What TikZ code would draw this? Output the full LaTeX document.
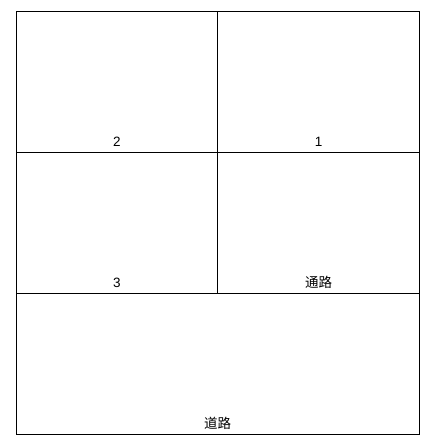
\documentclass[tikz,border=0pt]{standalone}
\usepackage{fontspec}
\setmainfont{Liberation Sans}
\newfontfamily\cjk{Noto Sans CJK SC}
\begin{document}
\begin{tikzpicture}[x=1pt,y=1pt,
  cell/.style={draw=black, line width=1pt, minimum width=#1, inner sep=0pt, anchor=north west},
  lbl/.style={anchor=base, inner sep=0pt, font=\fontsize{13.5}{15}\selectfont}]
\useasboundingbox (0,0) rectangle (433,439);
\node[cell=201.7, minimum height=141] (c2) at (15.5,427.7) {};
\node[cell=201.7, minimum height=141] (c1) at (217.2,427.7) {};
\node[cell=201.7, minimum height=141] (c3) at (15.5,286.7) {};
\node[cell=201.7, minimum height=141] (p) at (217.2,286.7) {};
\node[cell=403.4, minimum height=141] (r) at (15.5,145.7) {};
\node[lbl] (t2) at ([yshift=6.6]c2.south) {2};
\node[lbl] (t1) at ([yshift=6.6]c1.south) {1};
\node[lbl] (t3) at ([yshift=6.6]c3.south) {3};
\node[lbl, font=\cjk\fontsize{13.5}{15}\selectfont] (tp) at ([yshift=6.6]p.south) {通路};
\node[lbl, font=\cjk\fontsize{13.5}{15}\selectfont] (tr) at ([yshift=6.6]r.south) {道路};
\end{tikzpicture}
\end{document}
